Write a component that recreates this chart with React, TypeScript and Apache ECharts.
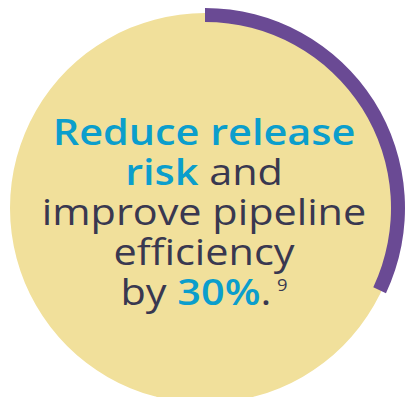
import React, { useEffect, useRef } from "react";
import * as echarts from "echarts";

// Data
const progressShare = [32, 68]; // drawn arc share vs remainder (%)
const headlineLines = [
  [{ t: "Reduce release", s: "b" }],
  [{ t: "risk", s: "b" }, { t: " and", s: "r" }],
  [{ t: "improve pipeline", s: "r" }],
  [{ t: "efficiency", s: "r" }],
  [{ t: "by ", s: "r" }, { t: "30%", s: "b" }, { t: ".", s: "r" }, { t: "9", s: "sup" }],
];

const YELLOW = "#F1E09B";
const PURPLE = "#6A4A94";
const BLUE = "#0B9ECC";
const DARK = "#393850";
const FONT = "'Open Sans', 'Noto Sans', sans-serif";

export default function App() {
  const ref = useRef<HTMLDivElement>(null);
  useEffect(() => {
    if (!ref.current) return;
    const chart = echarts.init(ref.current, null, { renderer: "svg" });
    const cx = 205;
    const cy = 208;
    const text = headlineLines
      .map((line) => line.map((p) => `{${p.s}|${p.t}}`).join(""))
      .join("\n");
    chart.setOption({
      animation: false,
      series: [
        {
          type: "pie",
          silent: true,
          center: [cx, cy],
          radius: [0, 195],
          label: { show: false },
          labelLine: { show: false },
          itemStyle: { color: YELLOW, borderWidth: 0 },
          data: [{ value: 1, name: "bg" }],
        },
        {
          type: "pie",
          silent: true,
          center: [cx, cy],
          radius: [186, 200],
          startAngle: 90,
          clockwise: true,
          label: { show: false },
          labelLine: { show: false },
          itemStyle: { borderWidth: 0 },
          data: [
            { value: progressShare[0], name: "progress", itemStyle: { color: PURPLE } },
            { value: progressShare[1], name: "rest", itemStyle: { color: "rgba(0,0,0,0)" } },
          ],
        },
      ],
      graphic: [
        {
          type: "text",
          x: 204,
          y: 211,
          scaleX: 1.15,
          z: 100,
          silent: true,
          style: {
            text,
            align: "center",
            verticalAlign: "middle",
            rich: {
              b: { fontFamily: FONT, fontSize: 36, fontWeight: 600, fill: BLUE, lineHeight: 40 },
              r: { fontFamily: FONT, fontSize: 36, fontWeight: 400, fill: DARK, lineHeight: 40 },
              sup: {
                fontFamily: FONT,
                fontSize: 16,
                fill: DARK,
                lineHeight: 26,
                verticalAlign: "middle",
                padding: [0, 0, 12, 5],
              },
            },
          },
        },
      ],
    });
    return () => chart.dispose();
  }, []);
  return (
    <div
      ref={ref}
      style={{ position: "fixed", left: 0, top: 0, width: 408, height: 397, background: "#fff" }}
    />
  );
}
